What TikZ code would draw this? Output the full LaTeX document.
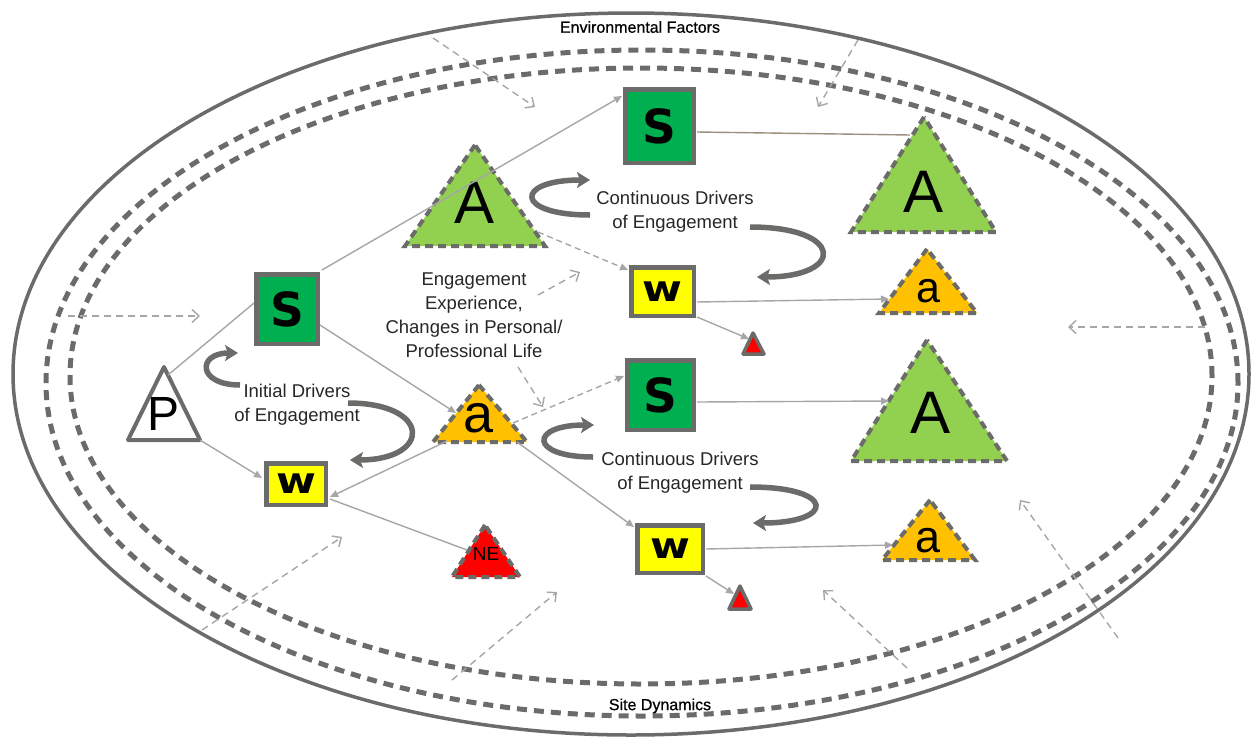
\documentclass[tikz,border=0pt]{standalone}
\usepackage{fontspec}
\setmainfont{Liberation Sans}
\newfontfamily\heavy{DejaVu Sans}
\newfontfamily\semibold[FakeBold=0.6]{Liberation Sans}
\usetikzlibrary{arrows.meta}
\definecolor{dk}{HTML}{6B6B69}
\definecolor{lg}{HTML}{A6A6A6}
\definecolor{sgreen}{HTML}{00B050}
\definecolor{agreen}{HTML}{92D050}
\definecolor{orng}{HTML}{FFC000}
\definecolor{ylw}{HTML}{FFFF00}
\definecolor{rd}{HTML}{FF0000}
\definecolor{brn}{HTML}{9C8F7E}
\newcommand{\wglyph}{\scalebox{1.2}[1]{w}}
\begin{document}
\begin{tikzpicture}[x=1pt,y=-1pt,
  box/.style={draw=dk,line width=4.5pt,inner sep=0pt},
  sbox/.style={box,fill=sgreen,font=\heavy\bfseries\fontsize{47}{47}\selectfont},
  wbox/.style={box,fill=ylw,font=\heavy\bfseries\fontsize{36}{36}\selectfont},
  tri/.style={draw=dk,line width=4pt,dash pattern=on 8pt off 5pt,line join=miter},
  soltri/.style={draw=dk,line width=4pt,line join=round},
  bigl/.style={inner sep=0pt,font=\fontsize{60}{60}\selectfont},
  con/.style={draw=lg,line width=1.4pt,-{Triangle[length=8pt,width=7pt]}},
  conn/.style={draw=lg,line width=1.4pt},
  dcon/.style={draw=lg,line width=1.4pt,dash pattern=on 6pt off 4pt,-{Triangle[length=8pt,width=7pt]}},
  env/.style={draw=lg,line width=1.4pt,dash pattern=on 7pt off 5pt,-{Straight Barb[length=7pt,width=13pt]}},
  ell/.style={draw=dk,line width=5pt,dash pattern=on 10pt off 7pt},
  curl/.style={draw=dk,line width=5.5pt,-{Stealth[length=13pt,width=16pt,inset=3pt]}},
  lbl/.style={align=center,text=black!85,inner sep=0pt,font=\fontsize{18.5}{24}\selectfont},
  elbl/.style={inner sep=0pt,text=black,font=\semibold\fontsize{16}{18}\selectfont}
]
\useasboundingbox (0,0) rectangle (1252,739);

% ellipses
\draw[draw=dk,line width=3.5pt] (631,374) ellipse [x radius=618pt, y radius=361pt];
\draw[ell] (642,383) ellipse [x radius=596pt, y radius=333pt];
\draw[ell] (641,376) ellipse [x radius=571pt, y radius=308pt];
\node[elbl] (envf) at (640,27) {Environmental Factors};
\node[elbl] (sited) at (660,706) {Site Dynamics};

% environment influence arrows
\coordinate (e1s) at (433,38);   \coordinate (e1e) at (535,107);
\coordinate (e2s) at (858,40);   \coordinate (e2e) at (818,107);
\coordinate (e3s) at (68,316);   \coordinate (e3e) at (200,316);
\coordinate (e4s) at (1205,327); \coordinate (e4e) at (1068,327);
\coordinate (e5s) at (202,630);  \coordinate (e5e) at (342,537);
\coordinate (e6s) at (452,680);  \coordinate (e6e) at (557,592);
\coordinate (e7s) at (907,668);  \coordinate (e7e) at (823,590);
\coordinate (e8s) at (1118,638); \coordinate (e8e) at (1020,500);
\foreach \i in {1,...,8} {\draw[env] (e\i s) -- (e\i e);}

% triangles
\path[soltri,fill=white] (164,367) -- (128,440) -- (200,440) -- cycle;
\node[inner sep=0pt,font=\fontsize{48}{48}\selectfont] (P) at (164,414) {P};
\path[tri,fill=agreen] (475,145) -- (405,246) -- (545,246) -- cycle;
\node[bigl] (A1) at (475,203) {A};
\path[tri,fill=orng] (479,385) -- (433,442) -- (527,442) -- cycle;
\node[inner sep=0pt,font=\fontsize{54}{54}\selectfont] (a1) at (479,418) {a};
\path[tri,fill=agreen] (924,117) -- (851,232) -- (996,232) -- cycle;
\node[bigl] (A2) at (923,192) {A};
\path[tri,fill=orng] (927,249) -- (879,313) -- (977,313) -- cycle;
\node[inner sep=0pt,font=\fontsize{43}{43}\selectfont] (a2) at (928,291) {a};
\path[tri,fill=agreen] (927,340) -- (851,461) -- (1007,461) -- cycle;
\node[bigl] (A3) at (930,413) {A};
\path[tri,fill=orng] (930,500) -- (882,560) -- (975,560) -- cycle;
\node[inner sep=0pt,font=\fontsize{45}{45}\selectfont] (a3) at (928,541) {a};
\path[tri,fill=rd] (485,525) -- (452,577) -- (520,577) -- cycle;
\node[inner sep=0pt,font=\fontsize{19}{19}\selectfont] (NE) at (486,554) {NE};
\path[soltri,fill=rd,line width=3.5pt] (753,333) -- (743,354) -- (764,354) -- cycle;
\coordinate (t1) at (753,345);
\path[soltri,fill=rd,line width=3.5pt] (740,586) -- (729,609) -- (751,609) -- cycle;
\coordinate (t2) at (740,598);

% boxes
\node[sbox,minimum width=61.5pt,minimum height=69.5pt] (S1) at (287,309) {S};
\node[sbox,minimum width=68.5pt,minimum height=73.5pt] (S2) at (659.5,126) {S};
\node[sbox,minimum width=66.5pt,minimum height=69.5pt] (S3) at (660.5,395) {S};
\node[wbox,minimum width=59.5pt,minimum height=41.5pt] (W1) at (296,484) {\wglyph};
\node[wbox,minimum width=62.5pt,minimum height=48.5pt] (W2) at (662.5,291.5) {\wglyph};
\node[wbox,minimum width=65.5pt,minimum height=47.5pt] (W3) at (670,549) {\wglyph};

% connector end points
\coordinate (Pr) at (168,375);   \coordinate (Pb) at (200,440);
\coordinate (S1l) at (254,303);  \coordinate (S1t) at (322,270);
\coordinate (S1r) at (320,325);  \coordinate (W1l) at (262,478);
\coordinate (W1r) at (330,497);  \coordinate (W1rb) at (330,499);
\coordinate (a1l) at (456,413);  \coordinate (a1b) at (447,441);
\coordinate (a1r) at (513,423);  \coordinate (a1rb) at (517,442);
\coordinate (S2l) at (622,96);   \coordinate (S2r) at (697,132);
\coordinate (A1r) at (538,232);  \coordinate (W2l) at (628,270);
\coordinate (A2l) at (910,135);  \coordinate (W2r) at (697,302);
\coordinate (W2rb) at (697,317); \coordinate (a2l) at (889,299);
\coordinate (t1l) at (749,339);  \coordinate (S3l) at (624,376);
\coordinate (W3l) at (634,527);  \coordinate (S3r) at (697,402);
\coordinate (A3l) at (889,401);  \coordinate (W3r) at (706,549);
\coordinate (a3l) at (893,545);  \coordinate (W3rb) at (706,576);
\coordinate (t2l) at (734,594);  \coordinate (NEl) at (467,550);

% connectors
\draw[conn] (Pr) -- (S1l);
\draw[con] (Pb) -- (W1l);
\draw[con] (S1t) -- (S2l);
\draw[con] (S1r) -- (a1l);
\draw[con] (a1b) -- (W1r);
\draw[conn] (W1rb) -- (NEl);
\draw[dcon] (A1r) -- (W2l);
\draw[draw=brn,line width=1.4pt] (S2r) -- (A2l);
\draw[con] (W2r) -- (a2l);
\draw[con] (W2rb) -- (t1l);
\draw[dcon] (a1r) -- (S3l);
\draw[con] (a1rb) -- (W3l);
\draw[con] (S3r) -- (A3l);
\draw[con] (W3r) -- (a3l);
\draw[con] (W3rb) -- (t2l);

% central text and its arrows
\node[lbl] (exp) at (474,315) {Engagement\\Experience,\\Changes in Personal/\\Professional Life};
\coordinate (x1s) at (538,295); \coordinate (x1e) at (580,272);
\coordinate (x2s) at (518,367); \coordinate (x2e) at (543,407);
\draw[env] (x1s) -- (x1e);
\draw[env] (x2s) -- (x2e);

% drivers labels and curls
\node[lbl] (idr) at (297,405) {Initial Drivers\\of Engagement};
\node[lbl] (cd1) at (675,212) {Continuous Drivers\\of Engagement};
\node[lbl] (cd2) at (680,473) {Continuous Drivers\\of Engagement};

\coordinate (i1s) at (240,385); \coordinate (i1e) at (238,353);
\coordinate (i2s) at (348,403); \coordinate (i2e) at (350,460);
\coordinate (c1s) at (590,215); \coordinate (c1e) at (590,180);
\coordinate (c2s) at (750,227); \coordinate (c2e) at (757,277);
\coordinate (d1s) at (593,457); \coordinate (d1e) at (594,425);
\coordinate (d2s) at (750,487); \coordinate (d2e) at (753,523);
\draw[curl] (i1s) .. controls (197,385) and (197,353) .. (i1e);
\draw[curl] (i2s) .. controls (432,403) and (432,460) .. (i2e);
\draw[curl] (c1s) .. controls (514,215) and (514,180) .. (c1e);
\draw[curl] (c2s) .. controls (845,227) and (845,277) .. (c2e);
\draw[curl] (d1s) .. controls (529,457) and (529,425) .. (d1e);
\draw[curl] (d2s) .. controls (836,487) and (836,523) .. (d2e);
\end{tikzpicture}
\end{document}
